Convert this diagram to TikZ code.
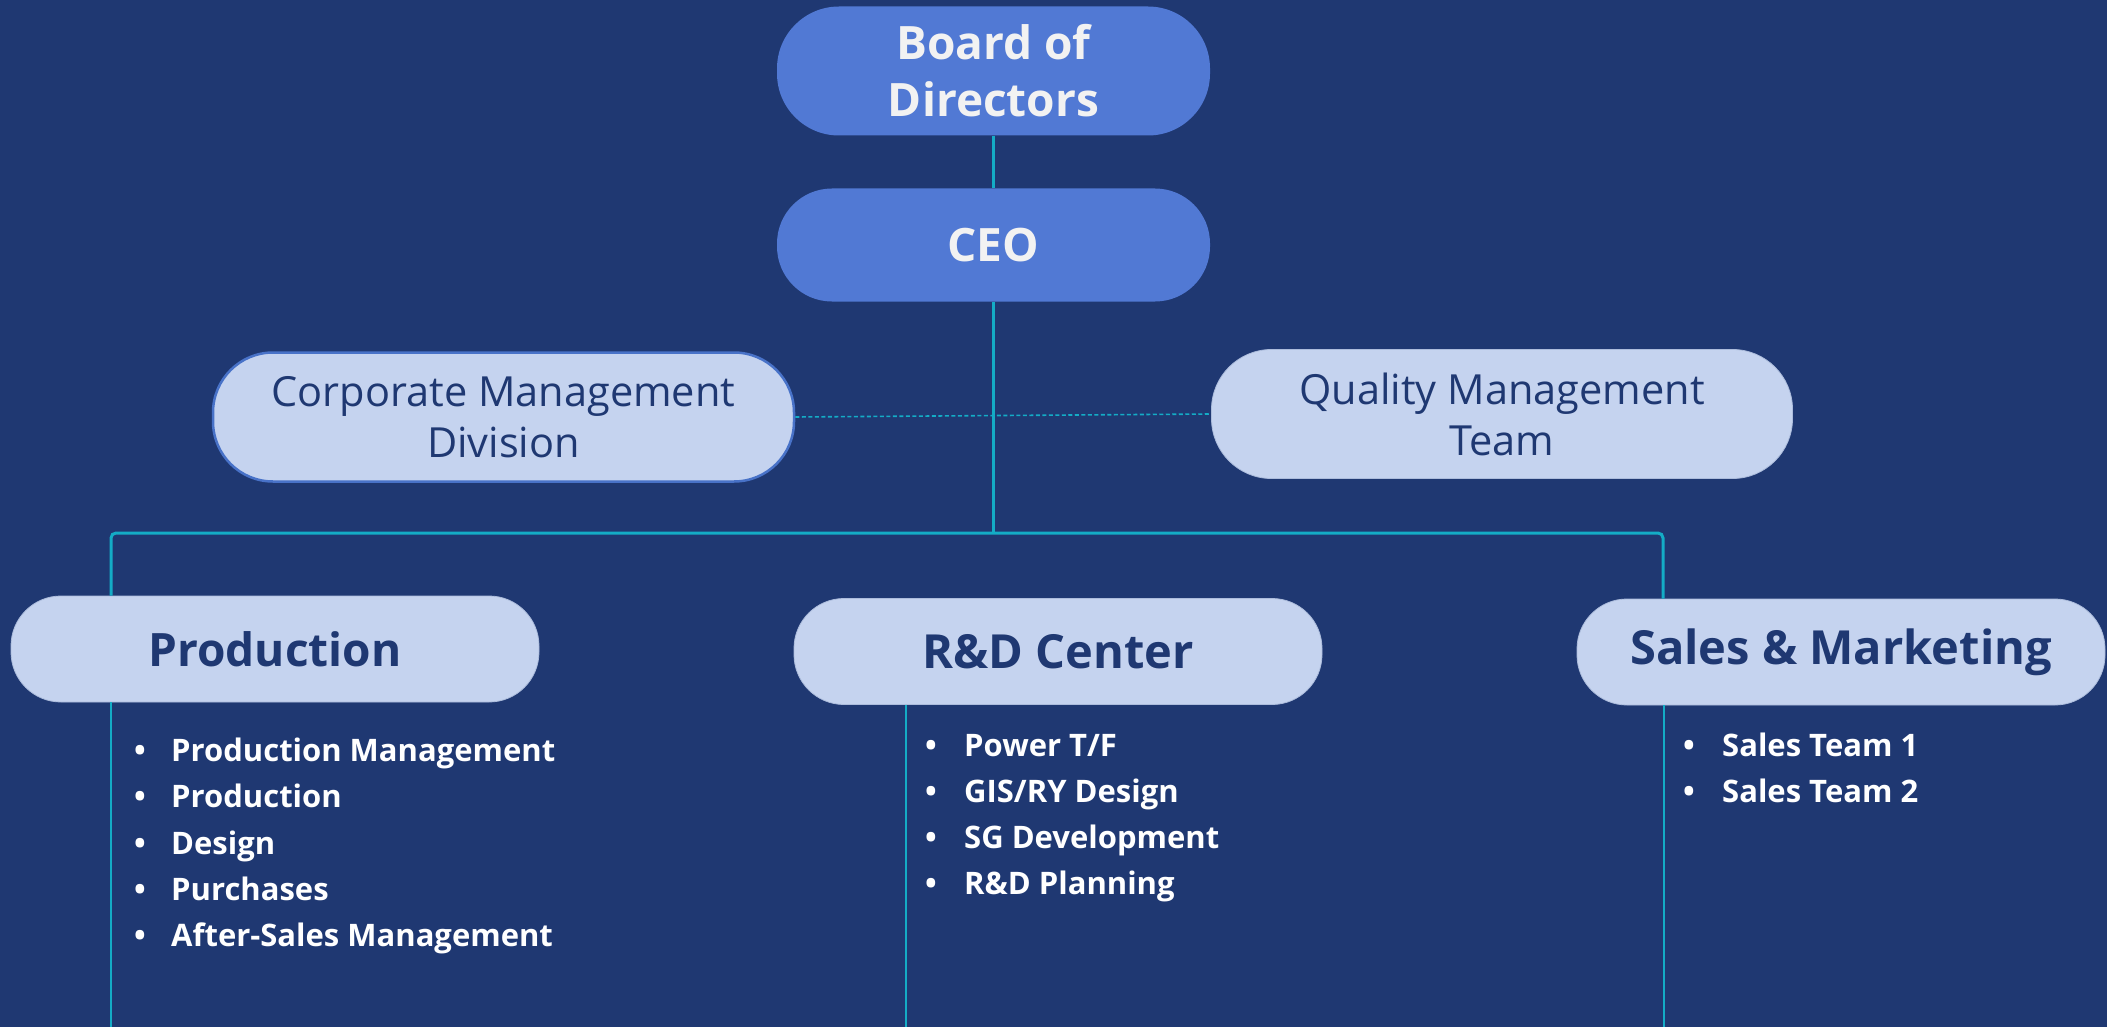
\documentclass[tikz,border=0pt]{standalone}
\usepackage{fontspec}
\setmainfont{Open Sans}
\definecolor{bgblue}{RGB}{31,56,114}
\definecolor{darkfill}{RGB}{81,121,212}
\definecolor{lightfill}{RGB}{197,211,239}
\definecolor{boxborder}{RGB}{72,114,200}
\definecolor{connline}{RGB}{20,172,198}
\definecolor{offwhite}{RGB}{242,242,242}
\begin{document}
\begin{tikzpicture}[x=1pt,y=-1pt,
  darkbox/.style={fill=darkfill, text=offwhite, align=center, inner sep=0pt,
    minimum width=433pt, font=\bfseries\fontsize{46}{57}\selectfont},
  lightbox/.style={fill=lightfill, draw=lightfill!85!bgblue, line width=0.8pt, text=bgblue, align=center, inner sep=0pt,
    minimum width=528pt, minimum height=106pt, rounded corners=50pt,
    font=\bfseries\fontsize{47}{57}\selectfont},
  sidebox/.style={fill=lightfill, text=bgblue, align=center, inner sep=0pt,
    minimum width=581pt, minimum height=129pt, rounded corners=60pt,
    font=\fontsize{41.5}{51}\selectfont},
  conn/.style={draw=connline, line width=3pt},
  thinconn/.style={draw=connline, line width=1.8pt},
  dashconn/.style={draw=connline, line width=1.6pt, dash pattern=on 4pt off 2.5pt},
  itemtext/.style={text=white, inner sep=0pt, anchor=base west, font=\bfseries\fontsize{31}{38}\selectfont}
]
\useasboundingbox (0,0) rectangle (2107,1027);
\fill[bgblue] (0,0) rectangle (2107,1027);

% top boxes
\node[darkbox, minimum height=129pt, rounded corners=62pt] (board) at (993.5,71) {Board of\\Directors};
\node[darkbox, minimum height=113pt, rounded corners=55pt] (ceo) at (993.5,245) {CEO};

% side boxes
\node[sidebox, draw=boxborder, line width=2.5pt] (corp) at (503.5,417) {Corporate Management\\Division};
\node[sidebox, draw=lightfill!85!bgblue, line width=0.8pt] (qual) at (1502,414) {Quality Management\\Team};

% department boxes
\node[lightbox, font=\bfseries\fontsize{46}{57}\selectfont] (prod) at (275,649) {Production};
\node[lightbox] (rnd) at (1058,651.5) {R\&D Center};
\node[lightbox] (sales) at (1841,652) {Sales \& Marketing};

% coordinates
\coordinate (hub) at (993.5,533);
\coordinate (pl) at (111,533);
\coordinate (sr) at (1663,533);
\coordinate (pb) at (111,1027);
\coordinate (rb) at (906,1027);
\coordinate (sb) at (1664,1027);

% connectors
\draw[conn] (board.south) -- (ceo.north);
\draw[conn] (ceo.south) -- (hub);
\draw[conn, rounded corners=5pt] (prod.north -| pl) -- (pl) -- (sr) -- (sales.north -| sr);
\draw[dashconn] (corp.east) -- (qual.west);
\draw[thinconn] (prod.south -| pb) -- (pb);
\draw[thinconn] (rnd.south -| rb) -- (rb);
\draw[thinconn] (sales.south -| sb) -- (sb);

% lists
\foreach \t [count=\i] in {Production Management, Production, Design, Purchases, After-Sales Management}
  \node[itemtext] (p\i) at ({134},{761.5+46.3*(\i-1)}) {\makebox[37pt][l]{\textbullet}\t};
\foreach \t [count=\i] in {Power T/F, GIS/RY Design, SG Development, R\&D Planning}
  \node[itemtext] (r\i) at ({925},{756.5+46*(\i-1)}) {\makebox[39pt][l]{\textbullet}\t};
\foreach \t [count=\i] in {Sales Team 1, Sales Team 2}
  \node[itemtext] (s\i) at ({1683},{756.5+46*(\i-1)}) {\makebox[39pt][l]{\textbullet}\t};
\end{tikzpicture}
\end{document}
